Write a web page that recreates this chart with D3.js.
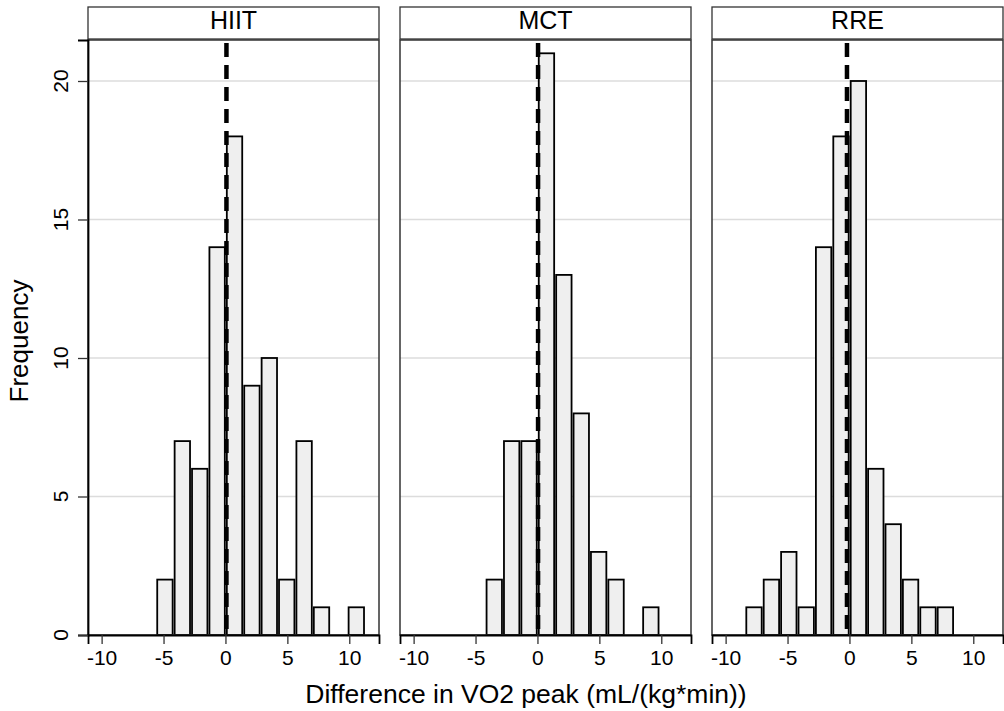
<!DOCTYPE html>
<html lang="en">
<head>
<meta charset="UTF-8">
<title>VO2 peak histograms</title>
<style>
  body { margin: 0; background: #fff; }
  text { font-family: "Liberation Sans", Arial, sans-serif; fill: #000; }
</style>
</head>
<body>
<script src="https://cdn.jsdelivr.net/npm/d3@7"></script>
<script>
const panels = ["HIIT", "MCT", "RRE"];
const binStart = [-5.59, -4.19, -8.41];
const binWidth = 1.405;
const hiitCounts = [2, 7, 6, 14, 18, 9, 10, 2, 7, 1, 0, 1];
const mctCounts = [2, 7, 7, 21, 13, 8, 3, 2, 0, 1];
const rreCounts = [1, 2, 3, 1, 14, 18, 20, 6, 4, 2, 1, 1];
const refLines = [0.08, 0.05, -0.2];
const xTicks = [-10, -5, 0, 5, 10];
const yTicks = [0, 5, 10, 15, 20];
const counts = [hiitCounts, mctCounts, rreCounts];

const W = 1004, H = 711;
const panelLeft = [88, 400, 712], panelW = 291;
const plotTop = 40, plotBottom = 635, stripTop = 7;
const tickFont = 21;

const svg = d3.select("body").append("svg")
    .attr("width", W).attr("height", H);

const x = d3.scaleLinear().domain([-11.1, 12.4]).range([0, panelW]);
const y = d3.scaleLinear().domain([0, 21.48]).range([plotBottom, plotTop]);

panels.forEach((name, i) => {
    const g = svg.append("g").attr("transform", `translate(${panelLeft[i]},0)`);

    // strip header
    g.append("rect")
        .attr("x", 0).attr("y", stripTop)
        .attr("width", panelW).attr("height", plotTop - stripTop - 1)
        .attr("fill", "#fff").attr("stroke", "#333").attr("stroke-width", 1.3);
    g.append("text")
        .attr("x", panelW / 2).attr("y", 28.5)
        .attr("text-anchor", "middle").attr("font-size", 25)
        .text(name);

    // gridlines
    g.selectAll("line.grid").data(yTicks.filter(d => d > 0)).enter()
        .append("line").attr("class", "grid")
        .attr("x1", 0).attr("x2", panelW)
        .attr("y1", d => y(d)).attr("y2", d => y(d))
        .attr("stroke", "#dcdcdc").attr("stroke-width", 1.5);

    // bars
    const bins = counts[i].map((c, k) => ({
        x0: binStart[i] + k * binWidth,
        x1: binStart[i] + (k + 1) * binWidth,
        n: c
    })).filter(d => d.n > 0);
    g.selectAll("rect.bar").data(bins).enter()
        .append("rect").attr("class", "bar")
        .attr("x", d => x(d.x0) + 1)
        .attr("width", d => x(d.x1) - x(d.x0) - 2)
        .attr("y", d => y(d.n))
        .attr("height", d => y(0) - y(d.n))
        .attr("fill", "#efefef").attr("stroke", "#000").attr("stroke-width", 1.8);

    // reference line
    g.append("line")
        .attr("x1", x(refLines[i])).attr("x2", x(refLines[i]))
        .attr("y1", plotTop + 3).attr("y2", plotBottom)
        .attr("stroke", "#000").attr("stroke-width", 4.5)
        .attr("stroke-dasharray", "14,8");

    // frame
    g.append("rect")
        .attr("x", 0).attr("y", plotTop)
        .attr("width", panelW).attr("height", plotBottom - plotTop)
        .attr("fill", "none").attr("stroke", "#333").attr("stroke-width", 1.5);

    // x axis
    const xa = g.append("g").attr("transform", `translate(0,${plotBottom})`)
        .call(d3.axisBottom(x).tickValues(xTicks).tickSize(9).tickPadding(6)
            .tickFormat(d => d < 0 ? "-" + Math.abs(d) : d));
    xa.select(".domain").attr("stroke", "#000").attr("stroke-width", 1.8);
    xa.selectAll(".tick line").attr("stroke", "#333").attr("stroke-width", 1.3);
    xa.selectAll(".tick text").attr("font-size", tickFont)
        .attr("font-family", "'Liberation Sans', Arial, sans-serif").attr("fill", "#000");

    if (i === 0) {
        const ya = g.append("g")
            .call(d3.axisLeft(y).tickValues(yTicks).tickSize(10).tickFormat(""));
        ya.select(".domain").attr("stroke", "#000").attr("stroke-width", 1.8);
        ya.selectAll(".tick line").attr("stroke", "#333").attr("stroke-width", 1.3);
        g.selectAll("text.ylab").data(yTicks).enter()
            .append("text").attr("class", "ylab")
            .attr("transform", d => `translate(-20,${y(d)}) rotate(-90)`)
            .attr("text-anchor", "middle").attr("font-size", tickFont)
            .text(d => d);
    }
});

svg.append("text")
    .attr("transform", "translate(28,341) rotate(-90)")
    .attr("text-anchor", "middle").attr("font-size", 26)
    .text("Frequency");

svg.append("text")
    .attr("x", 526).attr("y", 703)
    .attr("text-anchor", "middle").attr("font-size", 26.5)
    .text("Difference in VO2 peak (mL/(kg*min))");
</script>
</body>
</html>
